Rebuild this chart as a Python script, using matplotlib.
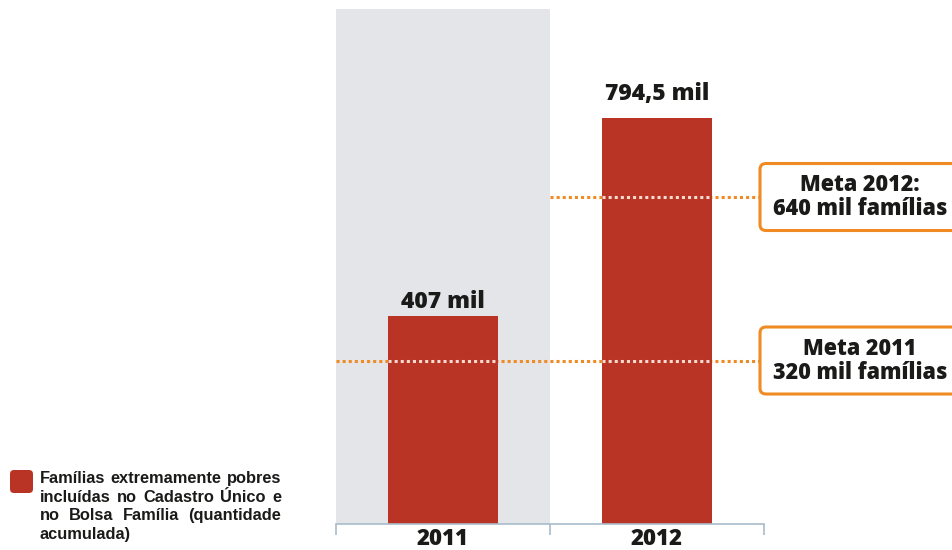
import matplotlib
matplotlib.use("Agg")
import matplotlib.pyplot as plt
from matplotlib.patches import FancyBboxPatch
from matplotlib.transforms import IdentityTransform

# dados (mil famílias, acumulado)
anos = ["2011", "2012"]
familias = [407, 794.5]
rotulos = ["407 mil", "794,5 mil"]
metas = [320, 640]
metas_txt = ["Meta 2011\n320 mil famílias", "Meta 2012:\n640 mil famílias"]
legenda = ["Famílias extremamente pobres",
           "incluídas no Cadastro Único e",
           "no Bolsa Família (quantidade",
           "acumulada)"]

VERMELHO = "#b93425"
LARANJA = "#f08a23"
CINZA = "#e4e5e8"
EIXO = "#a8bccb"
TEXTO = "#1a1a18"
FONTE = "Open Sans"

W, H = 952, 550
fig = plt.figure(figsize=(W / 100, H / 100), dpi=100)
ax = fig.add_axes([336 / W, 26 / H, 428 / W, 515 / H])
ax.set_xlim(-0.5, 1.5)
ax.set_ylim(0, 1008)
x = list(range(len(anos)))

# faixa cinza do primeiro ano
ax.axvspan(-0.5, 0.5, color=CINZA, lw=0, zorder=0)

larg_barra = 0.51
barras = ax.bar(x, familias, width=larg_barra, color=VERMELHO, zorder=2)

pads = [8, 18]
for i, (v, txt) in enumerate(zip(familias, rotulos)):
    ax.annotate(txt, (i, v), xytext=(0, pads[i]), textcoords="offset pixels",
                ha="center", va="baseline", fontsize=16.5, fontweight=800,
                family=FONTE, color=TEXTO)

# linhas pontilhadas das metas
fim = 1.481
for i, m in enumerate(metas):
    ini = i - 0.5
    ax.hlines(m, ini, fim, colors=LARANJA, lw=2.2, linestyles=(0, (1, 1)),
              zorder=1)
    for j, v in enumerate(familias):
        if v > m and j - larg_barra / 2 >= ini:
            ax.hlines(m, j - larg_barra / 2, j + larg_barra / 2, colors="#f6d9cf",
                      lw=2.2, linestyles=(0, (1, 1)), zorder=3)

# eixo
for s in ["top", "left", "right"]:
    ax.spines[s].set_visible(False)
ax.spines["bottom"].set_color(EIXO)
ax.spines["bottom"].set_linewidth(1.2)
ax.set_yticks([])
ax.set_xticks(x, anos)
ax.tick_params(axis="x", which="major", length=0, pad=2)
ax.set_xticks([-0.5, 0.5, 1.5], minor=True)
ax.tick_params(axis="x", which="minor", length=8, width=1.2, color=EIXO,
               direction="out")
for t in ax.get_xticklabels():
    t.set_fontsize(16)
    t.set_fontweight(800)
    t.set_family(FONTE)
    t.set_color(TEXTO)

# caixas das metas
for m, txt in zip(metas, metas_txt):
    yc = ax.transData.transform((0, m))[1]
    caixa = FancyBboxPatch((760, yc - 33.5), 240, 67,
                           boxstyle="round,pad=0,rounding_size=6",
                           transform=IdentityTransform(), fc="white",
                           ec=LARANJA, lw=2.2)
    fig.add_artist(caixa)
    fig.text(860, yc, txt, transform=IdentityTransform(), ha="center",
             va="center", fontsize=15.5, fontweight=800, family=FONTE,
             color=TEXTO, linespacing=1.0)

# legenda
fig.add_artist(FancyBboxPatch((10, 57), 23, 23,
                              boxstyle="round,pad=0,rounding_size=4",
                              transform=IdentityTransform(), fc=VERMELHO,
                              ec="none"))

r = fig.canvas.get_renderer()
x0, x1 = 40, 281
for k, linha in enumerate(legenda):
    y = 67 - 18.5 * k
    palavras = linha.split()
    textos = [fig.text(0, y, p, transform=IdentityTransform(), va="baseline",
                       fontsize=11.8, fontweight="bold",
                       family="Liberation Sans", color=TEXTO)
              for p in palavras]
    largs = [t.get_window_extent(r).width for t in textos]
    if k < len(legenda) - 1 and len(palavras) > 1:
        esp = (x1 - x0 - sum(largs)) / (len(palavras) - 1)
    else:
        esp = 4
    xx = x0
    for t, w in zip(textos, largs):
        t.set_x(xx)
        xx += w + esp

fig.savefig("out.png", dpi=100)
